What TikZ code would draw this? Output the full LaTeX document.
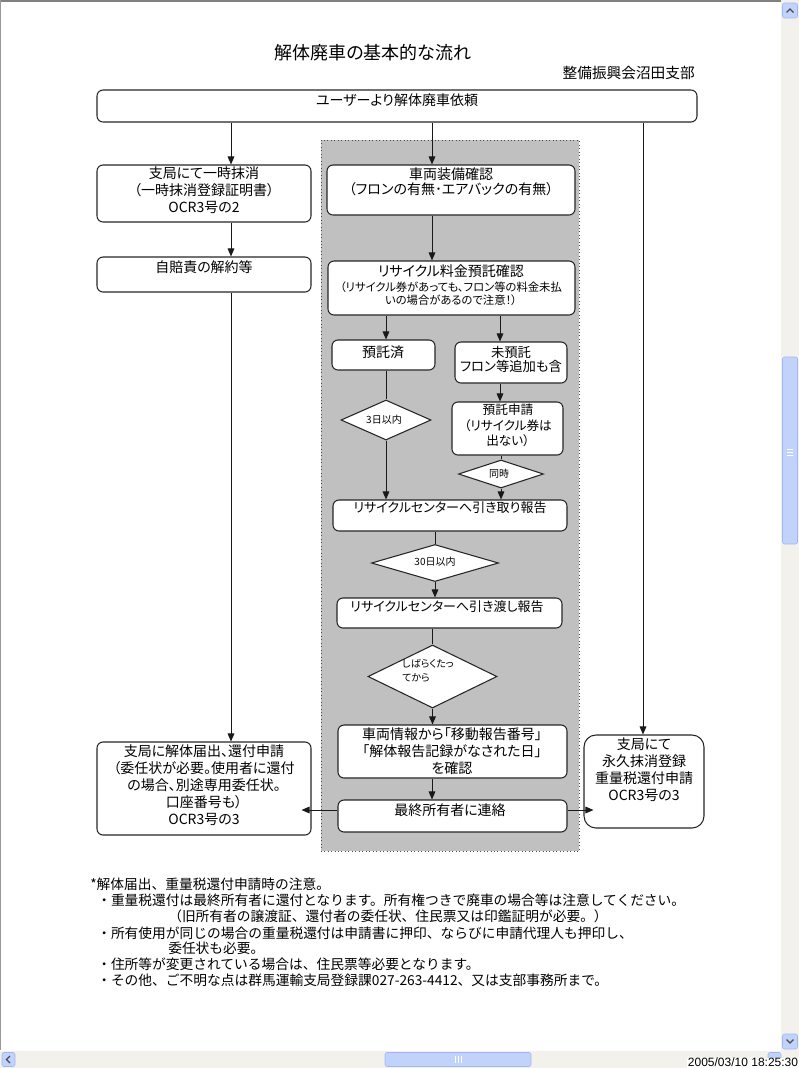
\documentclass[tikz,border=0pt]{standalone}
\usepackage{fontspec}
\setmainfont{Noto Sans CJK JP}[RawFeature=+palt]
\newfontfamily\cjkfw{Noto Sans CJK JP}
\newfontfamily\latinf{Liberation Sans}
\usetikzlibrary{shapes.geometric,arrows.meta,calc}
\definecolor{regiongray}{HTML}{C0C0C0}
\definecolor{trackc}{RGB}{243,241,236}
\definecolor{thumbc}{RGB}{193,211,251}
\definecolor{thumbd}{RGB}{160,184,240}
\newcommand\mkbox[6][]{\node[bx,#1,minimum width={(#4-#2)*0.75pt},minimum height={(#5-#3)*0.75pt}] (#6) at ({(#2+#4)/2},{(#3+#5)/2}) {};}
\begin{document}
\begin{tikzpicture}[x=0.75pt,y=-0.75pt,
  bx/.style={draw=black!85, line width=0.8pt, rounded corners=4.5pt, fill=white, inner sep=0pt},
  dia/.style={diamond, draw=black!85, line width=0.8pt, fill=white, inner sep=0pt},
  tx/.style={inner sep=0pt, align=center, font=\fontsize{10.5pt}{12.75pt}\selectfont},
  txs/.style={inner sep=0pt, align=center, font=\fontsize{7.5pt}{10pt}\selectfont},
  nt/.style={inner sep=0pt, anchor=west, font=\cjkfw\fontsize{10.3pt}{12pt}\selectfont},
  arr/.style={draw=black!90, line width=0.75pt, -{Triangle[length=6pt,width=5pt]}},
  ln/.style={draw=black!90, line width=0.75pt}]
\useasboundingbox (0,0) rectangle (799,1068);
% window frame
\draw[gray, line width=1.5pt] (0,1) -- (781,1);
\draw[gray!80, line width=1pt] (0.5,0) -- (0.5,1050);
% gray region
\fill[regiongray] (321,140) rectangle (579,851);
\draw[gray!60!black, dotted, line width=0.6pt] (321,140) rectangle (579,851);
% columns
\coordinate (cL) at (231,0);
\coordinate (cC) at (432,0);
\coordinate (cR) at (643,0);
\coordinate (cA) at (386,0);
\coordinate (cB) at (500,0);
% title
\node[inner sep=0pt, font=\fontsize{13.5pt}{16pt}\selectfont] (title) at (373,53) {解体廃車の基本的な流れ};
\node[inner sep=0pt, anchor=east, font=\fontsize{11pt}{13pt}\selectfont] (sub) at (695,73) {整備振興会沼田支部};
% boxes
\mkbox{97}{90}{697}{122}{top}
\node[tx] (topt) at (397,100) {ユーザーより解体廃車依頼};
\mkbox{97}{165}{311}{222}{lb1}
\node[tx] (lb1t) at (204,190) {支局にて一時抹消\\（一時抹消登録証明書）\\OCR3号の2};
\mkbox{97}{257}{311}{292}{lb2}
\node[tx] (lb2t) at (204,267) {自賠責の解約等};
\mkbox{97}{742}{311}{835}{lb3}
\node[tx] (lb3t) at (204,785) {支局に解体届出、還付申請\\（委任状が必要。使用者に還付\\の場合、別途専用委任状。\\口座番号も）\\OCR3号の3};
\mkbox[rounded corners=9pt]{584}{735}{704}{828}{rb}
\node[tx] (rbt) at (644,770) {支局にて\\永久抹消登録\\重量税還付申請\\OCR3号の3};
\mkbox{327}{165}{575}{215}{cb1}
\node[tx, font=\fontsize{10.5pt}{11.5pt}\selectfont] (cb1t) at (451,181.5) {車両装備確認\\（フロンの有無･エアバックの有無）};
\mkbox{328}{261}{575}{315}{cb2}
\node[tx] (cb2t) at (451,271) {リサイクル料金預託確認};
\node[tx, font=\fontsize{8.5pt}{9.75pt}\selectfont] (cb2u) at (451,293.5) {（リサイクル券があっても、フロン等の料金未払\\いの場合があるので注意！）};
\mkbox{332}{340}{435}{370}{yt}
\node[tx] (ytt) at (383,352) {預託済};
\mkbox{455}{342}{567}{383}{myt}
\node[tx, font=\fontsize{10pt}{10.5pt}\selectfont] (mytt) at (511,359) {未預託\\フロン等追加も含};
\mkbox{452}{402}{563}{455}{ysh}
\node[tx, font=\fontsize{9.5pt}{11.5pt}\selectfont] (ysht) at (508,425.5) {預託申請\\（リサイクル券は\\出ない）};
\node[dia, minimum width=67.5pt, minimum height=30pt] (d3) at (386,420) {};
\node[txs] (d3t) at (384,420) {3日以内};
\node[dia, minimum width=63.75pt, minimum height=21pt] (dd) at (501,474) {};
\node[txs] (ddt) at (499,474) {同時};
\mkbox{333}{500}{567}{531}{hk}
\node[tx, font=\fontsize{9.75pt}{11pt}\selectfont] (hkt) at (450,508) {リサイクルセンターへ引き取り報告};
\node[dia, minimum width=95.25pt, minimum height=27.75pt] (d30) at (435,563) {};
\node[txs] (d30t) at (435,562) {30日以内};
\mkbox{337}{598}{562}{628}{hw}
\node[tx, font=\fontsize{9.75pt}{11pt}\selectfont] (hwt) at (447,607) {リサイクルセンターへ引き渡し報告};
\node[dia, minimum width=96.75pt, minimum height=47.25pt] (ds) at (432.5,676.5) {};
\node[txs, align=left, anchor=west, font=\fontsize{7.5pt}{10.5pt}\selectfont] (dst) at (402,671) {しばらくたっ\\てから};
\mkbox{338}{725}{567}{778}{car}
\node[tx] (cart) at (452,751.5) {車両情報から「移動報告番号」\\「解体報告記録がなされた日」\\を確認};
\mkbox{338}{800}{567}{832}{fin}
\node[tx] (fint) at (450,810) {最終所有者に連絡};
% connectors
\draw[arr] (top.south -| cL) -- (lb1.north -| cL);
\draw[arr] (top.south -| cC) -- (cb1.north -| cC);
\draw[arr] (top.south -| cR) -- (rb.north -| cR);
\draw[arr] (lb1.south -| cL) -- (lb2.north -| cL);
\draw[arr] (lb2.south -| cL) -- (lb3.north -| cL);
\draw[arr] (cb1.south -| cC) -- (cb2.north -| cC);
\draw[arr] (cb2.south -| cA) -- (yt.north -| cA);
\draw[arr] (cb2.south -| cB) -- (myt.north -| cB);
\draw[ln] (yt.south -| d3) -- (d3.north);
\draw[arr] (d3.south) -- (hk.north -| d3);
\draw[arr] (myt.south -| cB) -- (ysh.north -| cB);
\draw[ln] (ysh.south -| dd) -- (dd.north);
\draw[arr] (dd.south) -- (hk.north -| dd);
\draw[ln] (hk.south -| d30) -- (d30.north);
\draw[arr] (d30.south) -- (hw.north -| d30);
\draw[ln] (hw.south -| ds) -- (ds.north);
\draw[arr] (ds.south) -- (car.north -| ds);
\draw[arr] (car.south -| cC) -- (fin.north -| cC);
\draw[arr] ($(fin.west)+(0,-6)$) -- ($(lb3.east)+(-10,21.5)$);
\draw[arr] ($(fin.east)+(0,-6)$) -- ($(rb.west)+(10,28.5)$);
% notes
\node[nt] (n1) at (90,884) {*解体届出、重量税還付申請時の注意。};
\node[nt] (n2) at (97,900) {・重量税還付は最終所有者に還付となります。所有権つきで廃車の場合等は注意してください。};
\node[nt] (n3) at (168,916) {（旧所有者の譲渡証、還付者の委任状、住民票又は印鑑証明が必要。）};
\node[nt] (n4) at (97,933) {・所有使用が同じの場合の重量税還付は申請書に押印、ならびに申請代理人も押印し、};
\node[nt] (n5) at (168,948) {委任状も必要。};
\node[nt] (n6) at (97,964) {・住所等が変更されている場合は、住民票等必要となります。};
\node[nt] (n7) at (97,980) {・その他、ご不明な点は群馬運輸支局登録課027-263-4412、又は支部事務所まで。};
% vertical scrollbar
\fill[trackc] (781,0) rectangle (799,1051);
\draw[thumbd, fill=thumbc, rounded corners=1.5pt] (782.5,3) rectangle (797.5,18);
\draw[black!70, line width=0.9pt] (786.5,12.5) -- (790,9) -- (793.5,12.5);
\draw[thumbd, fill=thumbc, rounded corners=1.5pt] (782.5,357) rectangle (797.5,544);
\draw[white, line width=0.6pt] (787,449) -- (793,449) (787,452) -- (793,452) (787,455) -- (793,455);
\draw[thumbd, fill=thumbc, rounded corners=1.5pt] (782.5,1034) rectangle (797.5,1049);
\draw[black!70, line width=0.9pt] (786.5,1039.5) -- (790,1043) -- (793.5,1039.5);
% horizontal scrollbar
\fill[trackc] (0,1051) rectangle (799,1068);
\draw[thumbd, fill=thumbc, rounded corners=1.5pt] (2,1052.5) rectangle (15,1066.5);
\draw[black!70, line width=0.9pt] (10,1056) -- (6.5,1059.5) -- (10,1063);
\draw[thumbd, fill=thumbc, rounded corners=1.5pt] (385,1052.5) rectangle (531,1066.5);
\draw[white, line width=0.6pt] (455,1056) -- (455,1063) (458,1056) -- (458,1063) (461,1056) -- (461,1063);
\draw[thumbd, fill=thumbc, rounded corners=1.5pt] (768,1052.5) rectangle (781,1066.5);
\node[inner sep=0.5pt, fill=white, anchor=south east, font=\latinf\fontsize{9pt}{10pt}\selectfont] (ts) at (799,1068) {2005/03/10 18:25:30};
\end{tikzpicture}
\end{document}
